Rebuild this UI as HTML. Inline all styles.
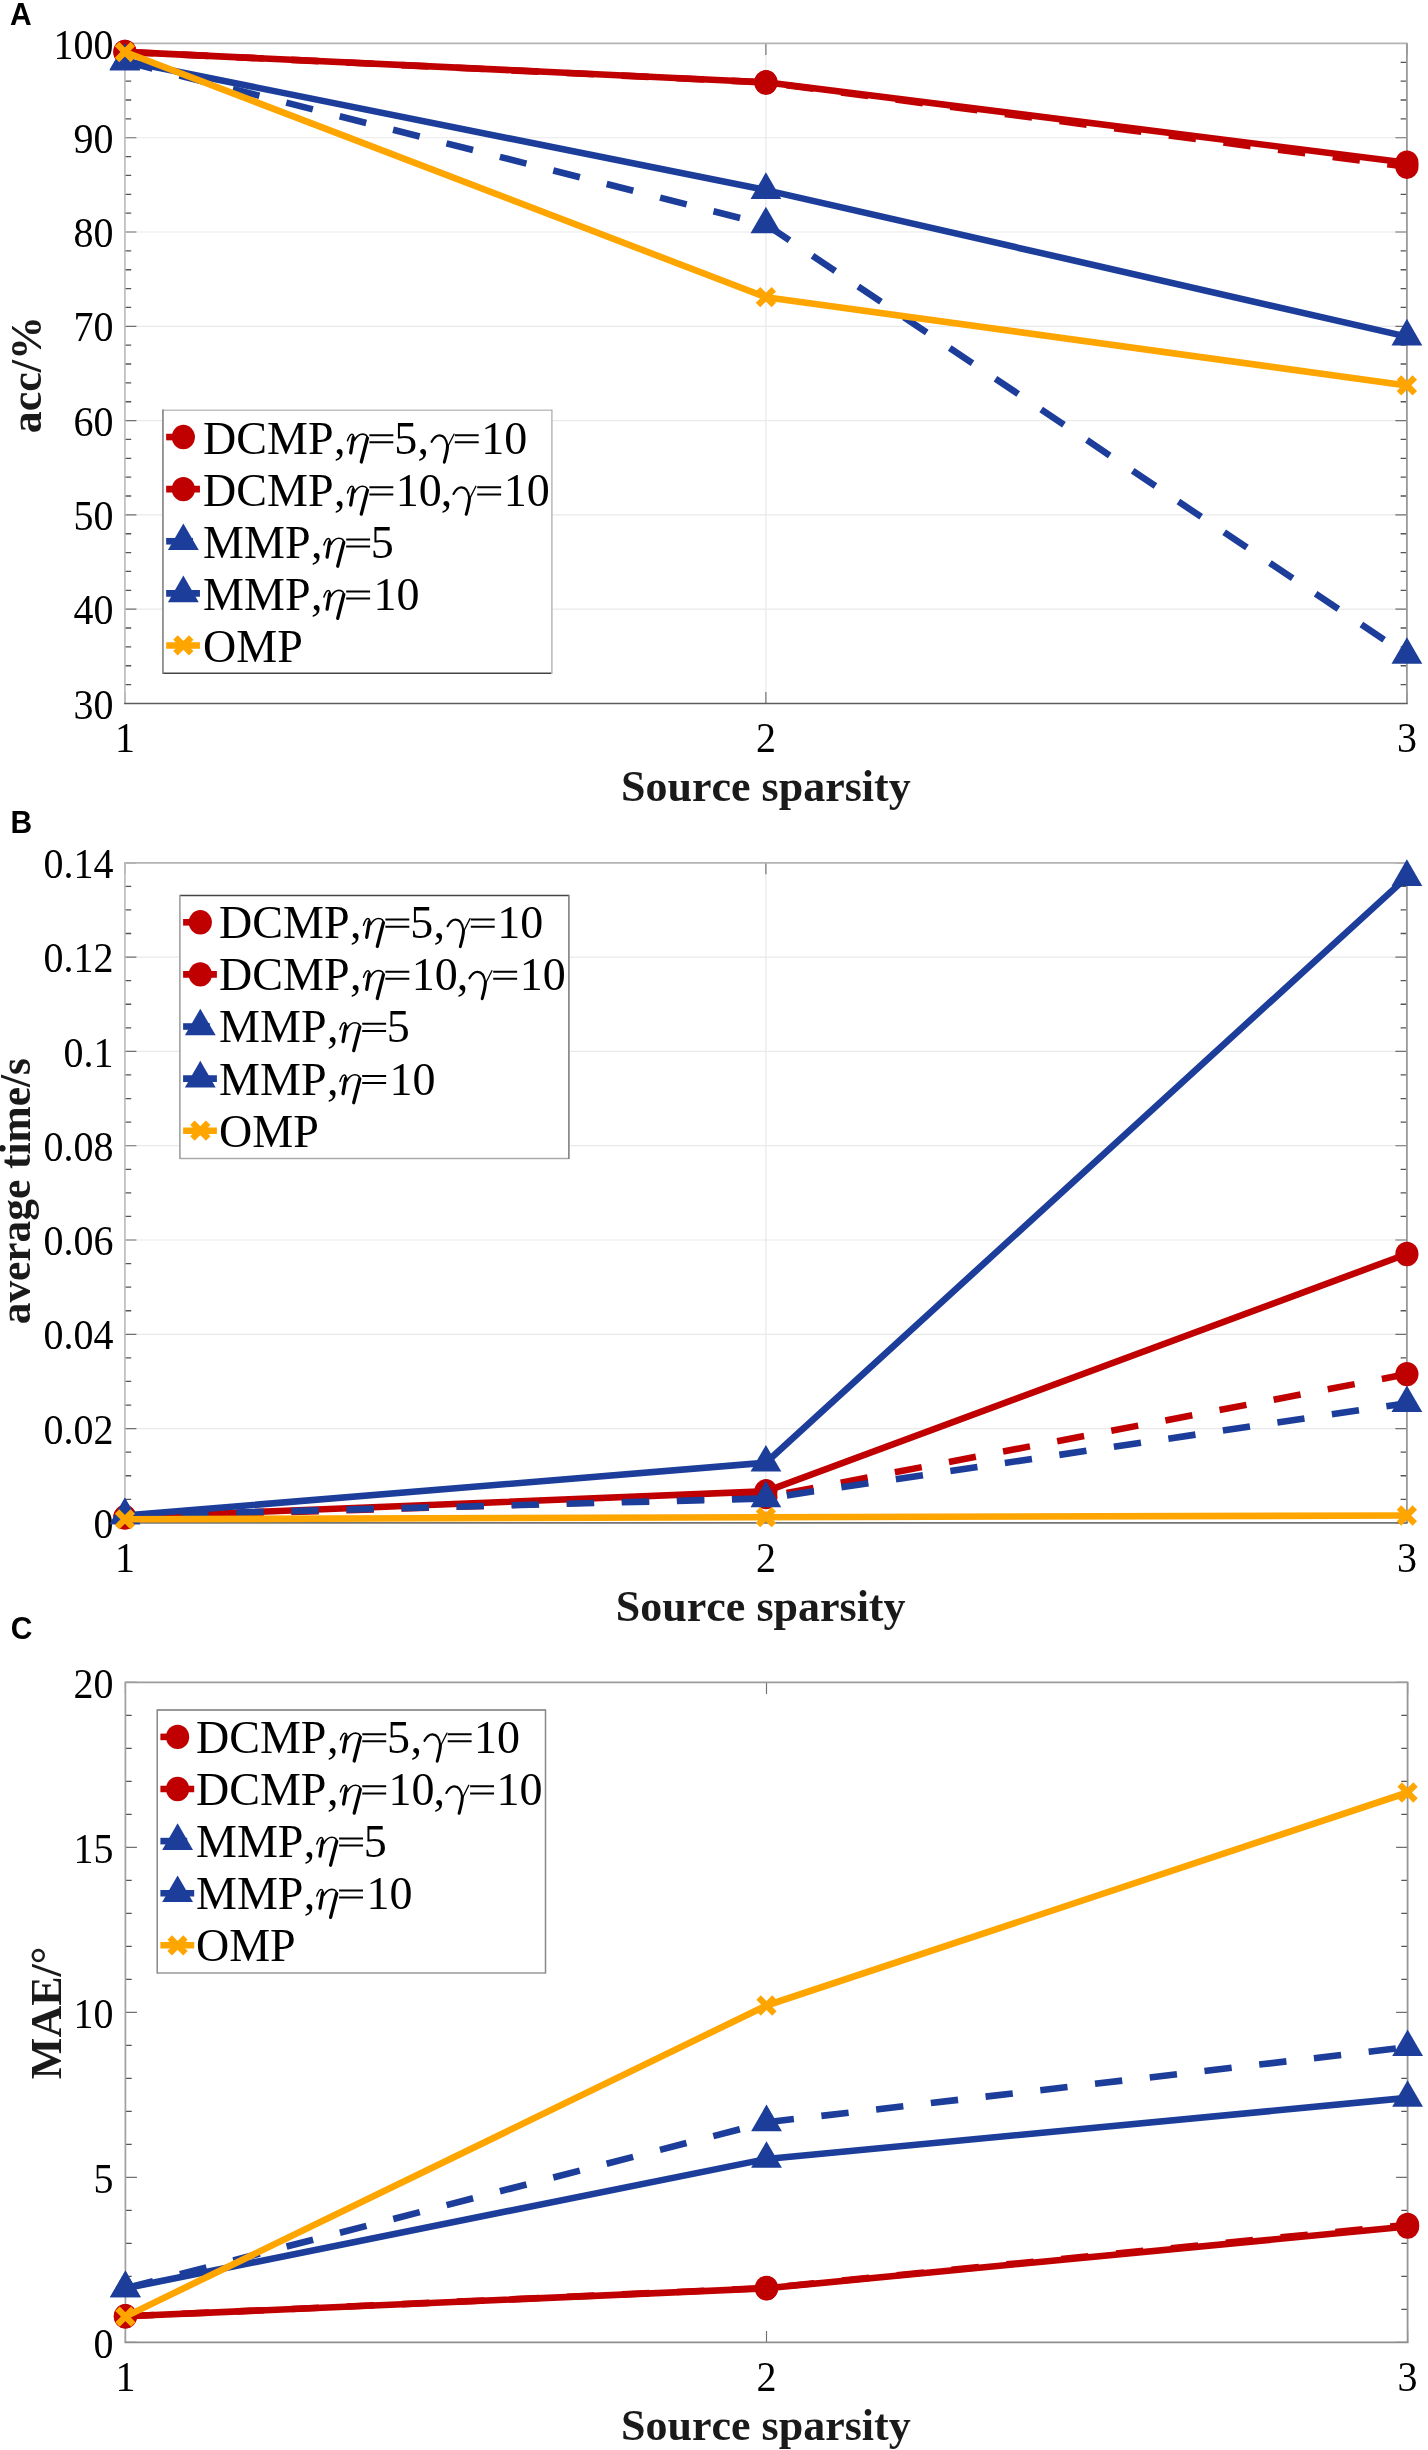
<!DOCTYPE html>
<html><head><meta charset="utf-8"><title>Figure</title>
<style>
html,body{margin:0;padding:0;background:#fff;}
body{width:1428px;height:2450px;overflow:hidden;}
svg{display:block;will-change:transform;}
text{font-kerning:none;font-feature-settings:"kern" 0;}
.tk{font-family:"Liberation Serif",serif;font-size:40px;fill:#000;}
.lab{font-family:"Liberation Serif",serif;font-size:44px;font-weight:bold;fill:#1a1a1a;}
.lg{font-family:"Liberation Serif",serif;font-size:46px;fill:#000;}
.let{font-family:"Liberation Sans",sans-serif;font-size:30px;font-weight:bold;fill:#000;}
</style></head>
<body>
<svg width="1428" height="2450" viewBox="0 0 1428 2450">
<rect width="1428" height="2450" fill="#fff"/>
<g>
<path d="M124.9 609.16H1406.9M124.9 514.88H1406.9M124.9 420.59H1406.9M124.9 326.31H1406.9M124.9 232.02H1406.9M124.9 137.74H1406.9M765.9 43.45V703.45" stroke="#e9e9e9" stroke-width="1.2" fill="none"/>
<path d="M124.9 684.59h6.3M1406.9 684.59h-6.3M124.9 665.74h6.3M1406.9 665.74h-6.3M124.9 646.88h6.3M1406.9 646.88h-6.3M124.9 628.02h6.3M1406.9 628.02h-6.3M124.9 590.31h6.3M1406.9 590.31h-6.3M124.9 571.45h6.3M1406.9 571.45h-6.3M124.9 552.59h6.3M1406.9 552.59h-6.3M124.9 533.74h6.3M1406.9 533.74h-6.3M124.9 496.02h6.3M1406.9 496.02h-6.3M124.9 477.16h6.3M1406.9 477.16h-6.3M124.9 458.31h6.3M1406.9 458.31h-6.3M124.9 439.45h6.3M1406.9 439.45h-6.3M124.9 401.74h6.3M1406.9 401.74h-6.3M124.9 382.88h6.3M1406.9 382.88h-6.3M124.9 364.02h6.3M1406.9 364.02h-6.3M124.9 345.16h6.3M1406.9 345.16h-6.3M124.9 307.45h6.3M1406.9 307.45h-6.3M124.9 288.59h6.3M1406.9 288.59h-6.3M124.9 269.74h6.3M1406.9 269.74h-6.3M124.9 250.88h6.3M1406.9 250.88h-6.3M124.9 213.16h6.3M1406.9 213.16h-6.3M124.9 194.31h6.3M1406.9 194.31h-6.3M124.9 175.45h6.3M1406.9 175.45h-6.3M124.9 156.59h6.3M1406.9 156.59h-6.3M124.9 118.88h6.3M1406.9 118.88h-6.3M124.9 100.02h6.3M1406.9 100.02h-6.3M124.9 81.16h6.3M1406.9 81.16h-6.3M124.9 62.31h6.3M1406.9 62.31h-6.3" stroke="#555" stroke-width="1.3" fill="none"/>
<path d="M124.9 703.45h11.5M1406.9 703.45h-11.5M124.9 609.16h11.5M1406.9 609.16h-11.5M124.9 514.88h11.5M1406.9 514.88h-11.5M124.9 420.59h11.5M1406.9 420.59h-11.5M124.9 326.31h11.5M1406.9 326.31h-11.5M124.9 232.02h11.5M1406.9 232.02h-11.5M124.9 137.74h11.5M1406.9 137.74h-11.5M124.9 43.45h11.5M1406.9 43.45h-11.5M124.9 703.45v-11.5M124.9 43.45v11.5M765.9 703.45v-11.5M765.9 43.45v11.5M1406.9 703.45v-11.5M1406.9 43.45v11.5" stroke="#707070" stroke-width="1.15" fill="none"/>
<path d="M124.1 43.45H1407.7" stroke="#b3b3b3" stroke-width="1.7"/>
<path d="M124.9 43.45V703.45" stroke="#bdbdbd" stroke-width="1.7"/>
<path d="M1406.9 43.45V703.45" stroke="#999999" stroke-width="1.8"/>
<path d="M124.1 703.45H1407.7" stroke="#5c5c5c" stroke-width="1.6"/>
<text transform="translate(113.6 718.55) scale(1 1.055)" class="tk" text-anchor="end">30</text>
<text transform="translate(113.6 624.26) scale(1 1.055)" class="tk" text-anchor="end">40</text>
<text transform="translate(113.6 529.98) scale(1 1.055)" class="tk" text-anchor="end">50</text>
<text transform="translate(113.6 435.69) scale(1 1.055)" class="tk" text-anchor="end">60</text>
<text transform="translate(113.6 341.41) scale(1 1.055)" class="tk" text-anchor="end">70</text>
<text transform="translate(113.6 247.12) scale(1 1.055)" class="tk" text-anchor="end">80</text>
<text transform="translate(113.6 152.84) scale(1 1.055)" class="tk" text-anchor="end">90</text>
<text transform="translate(113.6 58.55) scale(1 1.055)" class="tk" text-anchor="end">100</text>
<text transform="translate(124.9 752.35) scale(1 1.055)" class="tk" text-anchor="middle">1</text>
<text transform="translate(765.9 752.35) scale(1 1.055)" class="tk" text-anchor="middle">2</text>
<text transform="translate(1406.9 752.35) scale(1 1.055)" class="tk" text-anchor="middle">3</text>
<text x="765.9" y="801.3" class="lab" text-anchor="middle">Source sparsity</text>
<text transform="translate(41 374.6) rotate(-90)" class="lab" text-anchor="middle">acc/%</text>
<text transform="translate(10 24.7) scale(1 1.07)" class="let">A</text>
<polyline points="124.9,51.9 765.9,82.3 1406.9,162.7" stroke="#c00000" stroke-width="6.6" fill="none" stroke-linejoin="round"/>
<ellipse cx="124.9" cy="51.9" rx="11.6" ry="12.2" fill="#c00000"/>
<ellipse cx="765.9" cy="82.3" rx="11.6" ry="12.2" fill="#c00000"/>
<ellipse cx="1406.9" cy="162.7" rx="11.6" ry="12.2" fill="#c00000"/>
<polyline points="124.9,51.9 765.9,82.5 1406.9,166.7" stroke="#c00000" stroke-width="6.6" fill="none" stroke-linejoin="round" stroke-dasharray="27.4 27.7" stroke-dashoffset="-1.2"/>
<ellipse cx="124.9" cy="51.9" rx="11.6" ry="12.2" fill="#c00000"/>
<ellipse cx="765.9" cy="82.5" rx="11.6" ry="12.2" fill="#c00000"/>
<ellipse cx="1406.9" cy="166.7" rx="11.6" ry="12.2" fill="#c00000"/>
<polyline points="124.9,61 765.9,190.1 1406.9,336.6" stroke="#1c3e9a" stroke-width="6.6" fill="none" stroke-linejoin="round"/>
<path d="M124.9 43.27L140.3 69.87L109.5 69.87Z" fill="#1c3e9a"/>
<path d="M765.9 172.37L781.3 198.97L750.5 198.97Z" fill="#1c3e9a"/>
<path d="M1406.9 318.87L1422.3 345.47L1391.5 345.47Z" fill="#1c3e9a"/>
<polyline points="124.9,61.6 765.9,224.5 1406.9,655" stroke="#1c3e9a" stroke-width="6.6" fill="none" stroke-linejoin="round" stroke-dasharray="27.4 27.7" stroke-dashoffset="-1.2"/>
<path d="M124.9 43.87L140.3 70.47L109.5 70.47Z" fill="#1c3e9a"/>
<path d="M765.9 206.77L781.3 233.37L750.5 233.37Z" fill="#1c3e9a"/>
<path d="M1406.9 637.27L1422.3 663.87L1391.5 663.87Z" fill="#1c3e9a"/>
<polyline points="124.9,52 765.9,297.2 1406.9,385.4" stroke="#ffa500" stroke-width="6.6" fill="none" stroke-linejoin="round"/>
<path d="M117 44.1L132.8 59.9M132.8 44.1L117 59.9" stroke="#ffa500" stroke-width="6.3" fill="none"/>
<path d="M758 289.3L773.8 305.1M773.8 289.3L758 305.1" stroke="#ffa500" stroke-width="6.3" fill="none"/>
<path d="M1399 377.5L1414.8 393.3M1414.8 377.5L1399 393.3" stroke="#ffa500" stroke-width="6.3" fill="none"/>
<rect x="162.95" y="410.15" width="388.95" height="263.15" fill="#fff"/>
<path d="M162.95 410.15H551.9" stroke="#c0c0c0" stroke-width="1.5"/>
<path d="M162.95 673.3H551.9" stroke="#444444" stroke-width="1.5"/>
<path d="M162.95 409.45V674" stroke="#777777" stroke-width="1.5"/>
<path d="M551.9 409.45V674" stroke="#b8b8b8" stroke-width="1.5"/>
<path d="M166.15 437.05H192.95" stroke="#c00000" stroke-width="6.6"/>
<ellipse cx="183.35" cy="437.05" rx="11.6" ry="12.2" fill="#c00000"/>
<text y="453.8" class="lg"><tspan x="203.1">DCMP</tspan><tspan x="334.1">,</tspan><tspan x="394.2">5</tspan><tspan x="417.6">,</tspan><tspan x="481.2">10</tspan></text>
<g transform="translate(347.2 453.8)"><g fill="none" stroke="#000" stroke-linecap="round"><path d="M0.3 -13.0C1.5 -16.6 3 -19.6 4.7 -19.6C6.4 -19.6 6.5 -17.8 6.1 -15.6" stroke-width="1.5"/><path d="M6.1 -16.2L3.5 -0.9" stroke-width="3.3"/><path d="M7.4 -13.6C9.4 -17.6 12.4 -19.7 15.4 -19.7C18.7 -19.7 20.5 -17.8 20.1 -14.8" stroke-width="1.6"/><path d="M20.2 -15.6L14.1 8.2" stroke-width="3.3"/></g></g>
<g transform="translate(369.4 453.8)"><path d="M0 -19.6h23.9v2h-23.9zM0 -12.5h23.9v2h-23.9z" fill="#000"/></g>
<g transform="translate(431 453.8)"><g fill="none" stroke="#000" stroke-linecap="round"><path d="M0.6 -12.0C2.8 -16.3 5.6 -18.5 8.6 -18.5C12.6 -18.5 15.6 -14.6 16.4 -7.5" stroke-width="2.2"/><path d="M16.5 -8.0C16.6 -3 14.8 3 13.3 8.4" stroke-width="3.0"/><path d="M16.2 -6.0L23.0 -19.6" stroke-width="1.3"/></g></g>
<g transform="translate(454.8 453.8)"><path d="M0 -19.6h23.9v2h-23.9zM0 -12.5h23.9v2h-23.9z" fill="#000"/></g>
<path d="M166.15 489.15H199.95" stroke="#c00000" stroke-width="6.6"/>
<ellipse cx="183.35" cy="489.15" rx="11.6" ry="12.2" fill="#c00000"/>
<text y="505.9" class="lg"><tspan x="203.1">DCMP</tspan><tspan x="334.1">,</tspan><tspan x="395.7">10</tspan><tspan x="440.7">,</tspan><tspan x="503.7">10</tspan></text>
<g transform="translate(347.2 505.9)"><g fill="none" stroke="#000" stroke-linecap="round"><path d="M0.3 -13.0C1.5 -16.6 3 -19.6 4.7 -19.6C6.4 -19.6 6.5 -17.8 6.1 -15.6" stroke-width="1.5"/><path d="M6.1 -16.2L3.5 -0.9" stroke-width="3.3"/><path d="M7.4 -13.6C9.4 -17.6 12.4 -19.7 15.4 -19.7C18.7 -19.7 20.5 -17.8 20.1 -14.8" stroke-width="1.6"/><path d="M20.2 -15.6L14.1 8.2" stroke-width="3.3"/></g></g>
<g transform="translate(369.4 505.9)"><path d="M0 -19.6h23.9v2h-23.9zM0 -12.5h23.9v2h-23.9z" fill="#000"/></g>
<g transform="translate(452.9 505.9)"><g fill="none" stroke="#000" stroke-linecap="round"><path d="M0.6 -12.0C2.8 -16.3 5.6 -18.5 8.6 -18.5C12.6 -18.5 15.6 -14.6 16.4 -7.5" stroke-width="2.2"/><path d="M16.5 -8.0C16.6 -3 14.8 3 13.3 8.4" stroke-width="3.0"/><path d="M16.2 -6.0L23.0 -19.6" stroke-width="1.3"/></g></g>
<g transform="translate(477.2 505.9)"><path d="M0 -19.6h23.9v2h-23.9zM0 -12.5h23.9v2h-23.9z" fill="#000"/></g>
<path d="M166.15 541.25H192.95" stroke="#1c3e9a" stroke-width="6.6"/>
<path d="M183.35 523.52L198.75 550.12L167.95 550.12Z" fill="#1c3e9a"/>
<text y="558" class="lg"><tspan x="203.1">MMP</tspan><tspan x="310.9">,</tspan><tspan x="370.8">5</tspan></text>
<g transform="translate(323.6 558)"><g fill="none" stroke="#000" stroke-linecap="round"><path d="M0.3 -13.0C1.5 -16.6 3 -19.6 4.7 -19.6C6.4 -19.6 6.5 -17.8 6.1 -15.6" stroke-width="1.5"/><path d="M6.1 -16.2L3.5 -0.9" stroke-width="3.3"/><path d="M7.4 -13.6C9.4 -17.6 12.4 -19.7 15.4 -19.7C18.7 -19.7 20.5 -17.8 20.1 -14.8" stroke-width="1.6"/><path d="M20.2 -15.6L14.1 8.2" stroke-width="3.3"/></g></g>
<g transform="translate(346.2 558)"><path d="M0 -19.6h23.9v2h-23.9zM0 -12.5h23.9v2h-23.9z" fill="#000"/></g>
<path d="M166.15 593.35H199.95" stroke="#1c3e9a" stroke-width="6.6"/>
<path d="M183.35 575.62L198.75 602.22L167.95 602.22Z" fill="#1c3e9a"/>
<text y="610.1" class="lg"><tspan x="203.1">MMP</tspan><tspan x="310.9">,</tspan><tspan x="373.5">10</tspan></text>
<g transform="translate(323.6 610.1)"><g fill="none" stroke="#000" stroke-linecap="round"><path d="M0.3 -13.0C1.5 -16.6 3 -19.6 4.7 -19.6C6.4 -19.6 6.5 -17.8 6.1 -15.6" stroke-width="1.5"/><path d="M6.1 -16.2L3.5 -0.9" stroke-width="3.3"/><path d="M7.4 -13.6C9.4 -17.6 12.4 -19.7 15.4 -19.7C18.7 -19.7 20.5 -17.8 20.1 -14.8" stroke-width="1.6"/><path d="M20.2 -15.6L14.1 8.2" stroke-width="3.3"/></g></g>
<g transform="translate(346.2 610.1)"><path d="M0 -19.6h23.9v2h-23.9zM0 -12.5h23.9v2h-23.9z" fill="#000"/></g>
<path d="M166.15 645.45H199.95" stroke="#ffa500" stroke-width="6.6"/>
<path d="M175.45 637.55L191.25 653.35M191.25 637.55L175.45 653.35" stroke="#ffa500" stroke-width="6.3" fill="none"/>
<text y="662.2" class="lg"><tspan x="203.1">OMP</tspan></text>
</g>
<g>
<path d="M124.9 1428.6H1406.9M124.9 1334.3H1406.9M124.9 1240H1406.9M124.9 1145.7H1406.9M124.9 1051.4H1406.9M124.9 957.1H1406.9M765.9 862.8V1522.9" stroke="#e9e9e9" stroke-width="1.2" fill="none"/>
<path d="M124.9 1499.33h6.3M1406.9 1499.33h-6.3M124.9 1475.75h6.3M1406.9 1475.75h-6.3M124.9 1452.18h6.3M1406.9 1452.18h-6.3M124.9 1405.03h6.3M1406.9 1405.03h-6.3M124.9 1381.45h6.3M1406.9 1381.45h-6.3M124.9 1357.88h6.3M1406.9 1357.88h-6.3M124.9 1310.73h6.3M1406.9 1310.73h-6.3M124.9 1287.15h6.3M1406.9 1287.15h-6.3M124.9 1263.58h6.3M1406.9 1263.58h-6.3M124.9 1216.43h6.3M1406.9 1216.43h-6.3M124.9 1192.85h6.3M1406.9 1192.85h-6.3M124.9 1169.28h6.3M1406.9 1169.28h-6.3M124.9 1122.12h6.3M1406.9 1122.12h-6.3M124.9 1098.55h6.3M1406.9 1098.55h-6.3M124.9 1074.97h6.3M1406.9 1074.97h-6.3M124.9 1027.83h6.3M1406.9 1027.83h-6.3M124.9 1004.25h6.3M1406.9 1004.25h-6.3M124.9 980.67h6.3M1406.9 980.67h-6.3M124.9 933.52h6.3M1406.9 933.52h-6.3M124.9 909.95h6.3M1406.9 909.95h-6.3M124.9 886.38h6.3M1406.9 886.38h-6.3" stroke="#555" stroke-width="1.3" fill="none"/>
<path d="M124.9 1522.9h11.5M1406.9 1522.9h-11.5M124.9 1428.6h11.5M1406.9 1428.6h-11.5M124.9 1334.3h11.5M1406.9 1334.3h-11.5M124.9 1240h11.5M1406.9 1240h-11.5M124.9 1145.7h11.5M1406.9 1145.7h-11.5M124.9 1051.4h11.5M1406.9 1051.4h-11.5M124.9 957.1h11.5M1406.9 957.1h-11.5M124.9 862.8h11.5M1406.9 862.8h-11.5M124.9 1522.9v-11.5M124.9 862.8v11.5M765.9 1522.9v-11.5M765.9 862.8v11.5M1406.9 1522.9v-11.5M1406.9 862.8v11.5" stroke="#707070" stroke-width="1.15" fill="none"/>
<path d="M124.1 862.8H1407.7" stroke="#b3b3b3" stroke-width="1.7"/>
<path d="M124.9 862.8V1522.9" stroke="#bdbdbd" stroke-width="1.7"/>
<path d="M1406.9 862.8V1522.9" stroke="#999999" stroke-width="1.8"/>
<path d="M124.1 1522.9H1407.7" stroke="#737373" stroke-width="1.6"/>
<text transform="translate(113.6 1538) scale(1 1.055)" class="tk" text-anchor="end">0</text>
<text transform="translate(113.6 1443.7) scale(1 1.055)" class="tk" text-anchor="end">0.02</text>
<text transform="translate(113.6 1349.4) scale(1 1.055)" class="tk" text-anchor="end">0.04</text>
<text transform="translate(113.6 1255.1) scale(1 1.055)" class="tk" text-anchor="end">0.06</text>
<text transform="translate(113.6 1160.8) scale(1 1.055)" class="tk" text-anchor="end">0.08</text>
<text transform="translate(113.6 1066.5) scale(1 1.055)" class="tk" text-anchor="end">0.1</text>
<text transform="translate(113.6 972.2) scale(1 1.055)" class="tk" text-anchor="end">0.12</text>
<text transform="translate(113.6 877.9) scale(1 1.055)" class="tk" text-anchor="end">0.14</text>
<text transform="translate(124.9 1571.8) scale(1 1.055)" class="tk" text-anchor="middle">1</text>
<text transform="translate(765.9 1571.8) scale(1 1.055)" class="tk" text-anchor="middle">2</text>
<text transform="translate(1406.9 1571.8) scale(1 1.055)" class="tk" text-anchor="middle">3</text>
<text x="760.7" y="1621.3" class="lab" text-anchor="middle">Source sparsity</text>
<text transform="translate(30 1191.2) rotate(-90)" class="lab" text-anchor="middle" textLength="266.2" lengthAdjust="spacingAndGlyphs">average time/s</text>
<text transform="translate(10.5 832.7) scale(1 1.07)" class="let">B</text>
<polyline points="124.9,1517.3 765.9,1491.3 1406.9,1254" stroke="#c00000" stroke-width="6.6" fill="none" stroke-linejoin="round"/>
<ellipse cx="124.9" cy="1517.3" rx="11.6" ry="12.2" fill="#c00000"/>
<ellipse cx="765.9" cy="1491.3" rx="11.6" ry="12.2" fill="#c00000"/>
<ellipse cx="1406.9" cy="1254" rx="11.6" ry="12.2" fill="#c00000"/>
<polyline points="124.9,1517.3 765.9,1497 1406.9,1374.1" stroke="#c00000" stroke-width="6.6" fill="none" stroke-linejoin="round" stroke-dasharray="27.4 27.7" stroke-dashoffset="-1.2"/>
<ellipse cx="124.9" cy="1517.3" rx="11.6" ry="12.2" fill="#c00000"/>
<ellipse cx="765.9" cy="1497" rx="11.6" ry="12.2" fill="#c00000"/>
<ellipse cx="1406.9" cy="1374.1" rx="11.6" ry="12.2" fill="#c00000"/>
<polyline points="124.9,1515.5 765.9,1462.7 1406.9,877.1" stroke="#1c3e9a" stroke-width="6.6" fill="none" stroke-linejoin="round"/>
<path d="M124.9 1497.77L140.3 1524.37L109.5 1524.37Z" fill="#1c3e9a"/>
<path d="M765.9 1444.97L781.3 1471.57L750.5 1471.57Z" fill="#1c3e9a"/>
<path d="M1406.9 859.37L1422.3 885.97L1391.5 885.97Z" fill="#1c3e9a"/>
<polyline points="124.9,1515.5 765.9,1498.5 1406.9,1403.2" stroke="#1c3e9a" stroke-width="6.6" fill="none" stroke-linejoin="round" stroke-dasharray="27.4 27.7" stroke-dashoffset="-1.2"/>
<path d="M124.9 1497.77L140.3 1524.37L109.5 1524.37Z" fill="#1c3e9a"/>
<path d="M765.9 1480.77L781.3 1507.37L750.5 1507.37Z" fill="#1c3e9a"/>
<path d="M1406.9 1385.47L1422.3 1412.07L1391.5 1412.07Z" fill="#1c3e9a"/>
<polyline points="124.9,1519.3 765.9,1517.2 1406.9,1515.5" stroke="#ffa500" stroke-width="6.6" fill="none" stroke-linejoin="round"/>
<path d="M117 1511.4L132.8 1527.2M132.8 1511.4L117 1527.2" stroke="#ffa500" stroke-width="6.3" fill="none"/>
<path d="M758 1509.3L773.8 1525.1M773.8 1509.3L758 1525.1" stroke="#ffa500" stroke-width="6.3" fill="none"/>
<path d="M1399 1507.6L1414.8 1523.4M1414.8 1507.6L1399 1523.4" stroke="#ffa500" stroke-width="6.3" fill="none"/>
<rect x="179.9" y="895.4" width="389" height="263" fill="#fff"/>
<path d="M179.9 895.4H568.9" stroke="#444444" stroke-width="1.5"/>
<path d="M179.9 1158.4H568.9" stroke="#aaaaaa" stroke-width="1.5"/>
<path d="M179.9 894.7V1159.1" stroke="#999999" stroke-width="1.5"/>
<path d="M568.9 894.7V1159.1" stroke="#777777" stroke-width="1.5"/>
<path d="M183.1 922.3H209.9" stroke="#c00000" stroke-width="6.6"/>
<ellipse cx="200.3" cy="922.3" rx="11.6" ry="12.2" fill="#c00000"/>
<text y="938.2" class="lg"><tspan x="219.1">DCMP</tspan><tspan x="350.1">,</tspan><tspan x="410.2">5</tspan><tspan x="433.6">,</tspan><tspan x="497.2">10</tspan></text>
<g transform="translate(363.2 938.2)"><g fill="none" stroke="#000" stroke-linecap="round"><path d="M0.3 -13.0C1.5 -16.6 3 -19.6 4.7 -19.6C6.4 -19.6 6.5 -17.8 6.1 -15.6" stroke-width="1.5"/><path d="M6.1 -16.2L3.5 -0.9" stroke-width="3.3"/><path d="M7.4 -13.6C9.4 -17.6 12.4 -19.7 15.4 -19.7C18.7 -19.7 20.5 -17.8 20.1 -14.8" stroke-width="1.6"/><path d="M20.2 -15.6L14.1 8.2" stroke-width="3.3"/></g></g>
<g transform="translate(385.4 938.2)"><path d="M0 -19.6h23.9v2h-23.9zM0 -12.5h23.9v2h-23.9z" fill="#000"/></g>
<g transform="translate(447 938.2)"><g fill="none" stroke="#000" stroke-linecap="round"><path d="M0.6 -12.0C2.8 -16.3 5.6 -18.5 8.6 -18.5C12.6 -18.5 15.6 -14.6 16.4 -7.5" stroke-width="2.2"/><path d="M16.5 -8.0C16.6 -3 14.8 3 13.3 8.4" stroke-width="3.0"/><path d="M16.2 -6.0L23.0 -19.6" stroke-width="1.3"/></g></g>
<g transform="translate(470.8 938.2)"><path d="M0 -19.6h23.9v2h-23.9zM0 -12.5h23.9v2h-23.9z" fill="#000"/></g>
<path d="M183.1 974.4H216.9" stroke="#c00000" stroke-width="6.6"/>
<ellipse cx="200.3" cy="974.4" rx="11.6" ry="12.2" fill="#c00000"/>
<text y="990.3" class="lg"><tspan x="219.1">DCMP</tspan><tspan x="350.1">,</tspan><tspan x="411.7">10</tspan><tspan x="456.7">,</tspan><tspan x="519.7">10</tspan></text>
<g transform="translate(363.2 990.3)"><g fill="none" stroke="#000" stroke-linecap="round"><path d="M0.3 -13.0C1.5 -16.6 3 -19.6 4.7 -19.6C6.4 -19.6 6.5 -17.8 6.1 -15.6" stroke-width="1.5"/><path d="M6.1 -16.2L3.5 -0.9" stroke-width="3.3"/><path d="M7.4 -13.6C9.4 -17.6 12.4 -19.7 15.4 -19.7C18.7 -19.7 20.5 -17.8 20.1 -14.8" stroke-width="1.6"/><path d="M20.2 -15.6L14.1 8.2" stroke-width="3.3"/></g></g>
<g transform="translate(385.4 990.3)"><path d="M0 -19.6h23.9v2h-23.9zM0 -12.5h23.9v2h-23.9z" fill="#000"/></g>
<g transform="translate(468.9 990.3)"><g fill="none" stroke="#000" stroke-linecap="round"><path d="M0.6 -12.0C2.8 -16.3 5.6 -18.5 8.6 -18.5C12.6 -18.5 15.6 -14.6 16.4 -7.5" stroke-width="2.2"/><path d="M16.5 -8.0C16.6 -3 14.8 3 13.3 8.4" stroke-width="3.0"/><path d="M16.2 -6.0L23.0 -19.6" stroke-width="1.3"/></g></g>
<g transform="translate(493.2 990.3)"><path d="M0 -19.6h23.9v2h-23.9zM0 -12.5h23.9v2h-23.9z" fill="#000"/></g>
<path d="M183.1 1026.5H209.9" stroke="#1c3e9a" stroke-width="6.6"/>
<path d="M200.3 1008.77L215.7 1035.37L184.9 1035.37Z" fill="#1c3e9a"/>
<text y="1042.4" class="lg"><tspan x="219.1">MMP</tspan><tspan x="326.9">,</tspan><tspan x="386.8">5</tspan></text>
<g transform="translate(339.6 1042.4)"><g fill="none" stroke="#000" stroke-linecap="round"><path d="M0.3 -13.0C1.5 -16.6 3 -19.6 4.7 -19.6C6.4 -19.6 6.5 -17.8 6.1 -15.6" stroke-width="1.5"/><path d="M6.1 -16.2L3.5 -0.9" stroke-width="3.3"/><path d="M7.4 -13.6C9.4 -17.6 12.4 -19.7 15.4 -19.7C18.7 -19.7 20.5 -17.8 20.1 -14.8" stroke-width="1.6"/><path d="M20.2 -15.6L14.1 8.2" stroke-width="3.3"/></g></g>
<g transform="translate(362.2 1042.4)"><path d="M0 -19.6h23.9v2h-23.9zM0 -12.5h23.9v2h-23.9z" fill="#000"/></g>
<path d="M183.1 1078.6H216.9" stroke="#1c3e9a" stroke-width="6.6"/>
<path d="M200.3 1060.87L215.7 1087.47L184.9 1087.47Z" fill="#1c3e9a"/>
<text y="1094.5" class="lg"><tspan x="219.1">MMP</tspan><tspan x="326.9">,</tspan><tspan x="389.5">10</tspan></text>
<g transform="translate(339.6 1094.5)"><g fill="none" stroke="#000" stroke-linecap="round"><path d="M0.3 -13.0C1.5 -16.6 3 -19.6 4.7 -19.6C6.4 -19.6 6.5 -17.8 6.1 -15.6" stroke-width="1.5"/><path d="M6.1 -16.2L3.5 -0.9" stroke-width="3.3"/><path d="M7.4 -13.6C9.4 -17.6 12.4 -19.7 15.4 -19.7C18.7 -19.7 20.5 -17.8 20.1 -14.8" stroke-width="1.6"/><path d="M20.2 -15.6L14.1 8.2" stroke-width="3.3"/></g></g>
<g transform="translate(362.2 1094.5)"><path d="M0 -19.6h23.9v2h-23.9zM0 -12.5h23.9v2h-23.9z" fill="#000"/></g>
<path d="M183.1 1130.7H216.9" stroke="#ffa500" stroke-width="6.6"/>
<path d="M192.4 1122.8L208.2 1138.6M208.2 1122.8L192.4 1138.6" stroke="#ffa500" stroke-width="6.3" fill="none"/>
<text y="1146.6" class="lg"><tspan x="219.1">OMP</tspan></text>
</g>
<g>
<path d="M125.4 2309.4h6.3M1407.6 2309.4h-6.3M125.4 2276.4h6.3M1407.6 2276.4h-6.3M125.4 2243.4h6.3M1407.6 2243.4h-6.3M125.4 2210.4h6.3M1407.6 2210.4h-6.3M125.4 2144.4h6.3M1407.6 2144.4h-6.3M125.4 2111.4h6.3M1407.6 2111.4h-6.3M125.4 2078.4h6.3M1407.6 2078.4h-6.3M125.4 2045.4h6.3M1407.6 2045.4h-6.3M125.4 1979.4h6.3M1407.6 1979.4h-6.3M125.4 1946.4h6.3M1407.6 1946.4h-6.3M125.4 1913.4h6.3M1407.6 1913.4h-6.3M125.4 1880.4h6.3M1407.6 1880.4h-6.3M125.4 1814.4h6.3M1407.6 1814.4h-6.3M125.4 1781.4h6.3M1407.6 1781.4h-6.3M125.4 1748.4h6.3M1407.6 1748.4h-6.3M125.4 1715.4h6.3M1407.6 1715.4h-6.3" stroke="#555" stroke-width="1.3" fill="none"/>
<path d="M125.4 2342.4h11.5M1407.6 2342.4h-11.5M125.4 2177.4h11.5M1407.6 2177.4h-11.5M125.4 2012.4h11.5M1407.6 2012.4h-11.5M125.4 1847.4h11.5M1407.6 1847.4h-11.5M125.4 1682.4h11.5M1407.6 1682.4h-11.5M125.4 2342.4v-11.5M125.4 1682.4v11.5M766.5 2342.4v-11.5M766.5 1682.4v11.5M1407.6 2342.4v-11.5M1407.6 1682.4v11.5" stroke="#707070" stroke-width="1.15" fill="none"/>
<path d="M124.6 1682.4H1408.4" stroke="#9c9c9c" stroke-width="1.7"/>
<path d="M125.4 1682.4V2342.4" stroke="#a0a0a0" stroke-width="1.7"/>
<path d="M1407.6 1682.4V2342.4" stroke="#959595" stroke-width="1.8"/>
<path d="M124.6 2342.4H1408.4" stroke="#8e8e8e" stroke-width="1.6"/>
<text transform="translate(113.6 2357.5) scale(1 1.055)" class="tk" text-anchor="end">0</text>
<text transform="translate(113.6 2192.5) scale(1 1.055)" class="tk" text-anchor="end">5</text>
<text transform="translate(113.6 2027.5) scale(1 1.055)" class="tk" text-anchor="end">10</text>
<text transform="translate(113.6 1862.5) scale(1 1.055)" class="tk" text-anchor="end">15</text>
<text transform="translate(113.6 1697.5) scale(1 1.055)" class="tk" text-anchor="end">20</text>
<text transform="translate(125.4 2391.3) scale(1 1.055)" class="tk" text-anchor="middle">1</text>
<text transform="translate(766.5 2391.3) scale(1 1.055)" class="tk" text-anchor="middle">2</text>
<text transform="translate(1407.6 2391.3) scale(1 1.055)" class="tk" text-anchor="middle">3</text>
<text x="765.9" y="2439.8" class="lab" text-anchor="middle">Source sparsity</text>
<text transform="translate(60.8 2012.9) rotate(-90)" class="lab" text-anchor="middle">MAE/°</text>
<text transform="translate(10.7 1639.4) scale(1 1.07)" class="let">C</text>
<polyline points="125.4,2316.3 766.5,2288.3 1407.6,2226.5" stroke="#c00000" stroke-width="6.6" fill="none" stroke-linejoin="round"/>
<ellipse cx="125.4" cy="2316.3" rx="11.6" ry="12.2" fill="#c00000"/>
<ellipse cx="766.5" cy="2288.3" rx="11.6" ry="12.2" fill="#c00000"/>
<ellipse cx="1407.6" cy="2226.5" rx="11.6" ry="12.2" fill="#c00000"/>
<polyline points="125.4,2316.3 766.5,2288 1407.6,2224.9" stroke="#c00000" stroke-width="6.6" fill="none" stroke-linejoin="round" stroke-dasharray="27.4 27.7" stroke-dashoffset="-1.2"/>
<ellipse cx="125.4" cy="2316.3" rx="11.6" ry="12.2" fill="#c00000"/>
<ellipse cx="766.5" cy="2288" rx="11.6" ry="12.2" fill="#c00000"/>
<ellipse cx="1407.6" cy="2224.9" rx="11.6" ry="12.2" fill="#c00000"/>
<polyline points="125.4,2288.3 766.5,2159 1407.6,2097.9" stroke="#1c3e9a" stroke-width="6.6" fill="none" stroke-linejoin="round"/>
<path d="M125.4 2270.57L140.8 2297.17L110 2297.17Z" fill="#1c3e9a"/>
<path d="M766.5 2141.27L781.9 2167.87L751.1 2167.87Z" fill="#1c3e9a"/>
<path d="M1407.6 2080.17L1423 2106.77L1392.2 2106.77Z" fill="#1c3e9a"/>
<polyline points="125.4,2288.3 766.5,2122.3 1407.6,2047.2" stroke="#1c3e9a" stroke-width="6.6" fill="none" stroke-linejoin="round" stroke-dasharray="27.4 27.7" stroke-dashoffset="-1.2"/>
<path d="M125.4 2270.57L140.8 2297.17L110 2297.17Z" fill="#1c3e9a"/>
<path d="M766.5 2104.57L781.9 2131.17L751.1 2131.17Z" fill="#1c3e9a"/>
<path d="M1407.6 2029.47L1423 2056.07L1392.2 2056.07Z" fill="#1c3e9a"/>
<polyline points="125.4,2316.6 766.5,2005.5 1407.6,1792.5" stroke="#ffa500" stroke-width="6.6" fill="none" stroke-linejoin="round"/>
<path d="M117.5 2308.7L133.3 2324.5M133.3 2308.7L117.5 2324.5" stroke="#ffa500" stroke-width="6.3" fill="none"/>
<path d="M758.6 1997.6L774.4 2013.4M774.4 1997.6L758.6 2013.4" stroke="#ffa500" stroke-width="6.3" fill="none"/>
<path d="M1399.7 1784.6L1415.5 1800.4M1415.5 1784.6L1399.7 1800.4" stroke="#ffa500" stroke-width="6.3" fill="none"/>
<rect x="157.2" y="1710" width="388.3" height="262.9" fill="#fff"/>
<path d="M157.2 1710H545.5" stroke="#777777" stroke-width="1.5"/>
<path d="M157.2 1972.9H545.5" stroke="#999999" stroke-width="1.5"/>
<path d="M157.2 1709.3V1973.6" stroke="#888888" stroke-width="1.5"/>
<path d="M545.5 1709.3V1973.6" stroke="#888888" stroke-width="1.5"/>
<path d="M160.4 1736.9H187.2" stroke="#c00000" stroke-width="6.6"/>
<ellipse cx="177.6" cy="1736.9" rx="11.6" ry="12.2" fill="#c00000"/>
<text y="1752.8" class="lg"><tspan x="196">DCMP</tspan><tspan x="327">,</tspan><tspan x="387.1">5</tspan><tspan x="410.5">,</tspan><tspan x="474.1">10</tspan></text>
<g transform="translate(340.1 1752.8)"><g fill="none" stroke="#000" stroke-linecap="round"><path d="M0.3 -13.0C1.5 -16.6 3 -19.6 4.7 -19.6C6.4 -19.6 6.5 -17.8 6.1 -15.6" stroke-width="1.5"/><path d="M6.1 -16.2L3.5 -0.9" stroke-width="3.3"/><path d="M7.4 -13.6C9.4 -17.6 12.4 -19.7 15.4 -19.7C18.7 -19.7 20.5 -17.8 20.1 -14.8" stroke-width="1.6"/><path d="M20.2 -15.6L14.1 8.2" stroke-width="3.3"/></g></g>
<g transform="translate(362.3 1752.8)"><path d="M0 -19.6h23.9v2h-23.9zM0 -12.5h23.9v2h-23.9z" fill="#000"/></g>
<g transform="translate(423.9 1752.8)"><g fill="none" stroke="#000" stroke-linecap="round"><path d="M0.6 -12.0C2.8 -16.3 5.6 -18.5 8.6 -18.5C12.6 -18.5 15.6 -14.6 16.4 -7.5" stroke-width="2.2"/><path d="M16.5 -8.0C16.6 -3 14.8 3 13.3 8.4" stroke-width="3.0"/><path d="M16.2 -6.0L23.0 -19.6" stroke-width="1.3"/></g></g>
<g transform="translate(447.7 1752.8)"><path d="M0 -19.6h23.9v2h-23.9zM0 -12.5h23.9v2h-23.9z" fill="#000"/></g>
<path d="M160.4 1789H194.2" stroke="#c00000" stroke-width="6.6"/>
<ellipse cx="177.6" cy="1789" rx="11.6" ry="12.2" fill="#c00000"/>
<text y="1804.9" class="lg"><tspan x="196">DCMP</tspan><tspan x="327">,</tspan><tspan x="388.6">10</tspan><tspan x="433.6">,</tspan><tspan x="496.6">10</tspan></text>
<g transform="translate(340.1 1804.9)"><g fill="none" stroke="#000" stroke-linecap="round"><path d="M0.3 -13.0C1.5 -16.6 3 -19.6 4.7 -19.6C6.4 -19.6 6.5 -17.8 6.1 -15.6" stroke-width="1.5"/><path d="M6.1 -16.2L3.5 -0.9" stroke-width="3.3"/><path d="M7.4 -13.6C9.4 -17.6 12.4 -19.7 15.4 -19.7C18.7 -19.7 20.5 -17.8 20.1 -14.8" stroke-width="1.6"/><path d="M20.2 -15.6L14.1 8.2" stroke-width="3.3"/></g></g>
<g transform="translate(362.3 1804.9)"><path d="M0 -19.6h23.9v2h-23.9zM0 -12.5h23.9v2h-23.9z" fill="#000"/></g>
<g transform="translate(445.8 1804.9)"><g fill="none" stroke="#000" stroke-linecap="round"><path d="M0.6 -12.0C2.8 -16.3 5.6 -18.5 8.6 -18.5C12.6 -18.5 15.6 -14.6 16.4 -7.5" stroke-width="2.2"/><path d="M16.5 -8.0C16.6 -3 14.8 3 13.3 8.4" stroke-width="3.0"/><path d="M16.2 -6.0L23.0 -19.6" stroke-width="1.3"/></g></g>
<g transform="translate(470.1 1804.9)"><path d="M0 -19.6h23.9v2h-23.9zM0 -12.5h23.9v2h-23.9z" fill="#000"/></g>
<path d="M160.4 1841.1H187.2" stroke="#1c3e9a" stroke-width="6.6"/>
<path d="M177.6 1823.37L193 1849.97L162.2 1849.97Z" fill="#1c3e9a"/>
<text y="1857" class="lg"><tspan x="196">MMP</tspan><tspan x="303.8">,</tspan><tspan x="363.7">5</tspan></text>
<g transform="translate(316.5 1857)"><g fill="none" stroke="#000" stroke-linecap="round"><path d="M0.3 -13.0C1.5 -16.6 3 -19.6 4.7 -19.6C6.4 -19.6 6.5 -17.8 6.1 -15.6" stroke-width="1.5"/><path d="M6.1 -16.2L3.5 -0.9" stroke-width="3.3"/><path d="M7.4 -13.6C9.4 -17.6 12.4 -19.7 15.4 -19.7C18.7 -19.7 20.5 -17.8 20.1 -14.8" stroke-width="1.6"/><path d="M20.2 -15.6L14.1 8.2" stroke-width="3.3"/></g></g>
<g transform="translate(339.1 1857)"><path d="M0 -19.6h23.9v2h-23.9zM0 -12.5h23.9v2h-23.9z" fill="#000"/></g>
<path d="M160.4 1893.2H194.2" stroke="#1c3e9a" stroke-width="6.6"/>
<path d="M177.6 1875.47L193 1902.07L162.2 1902.07Z" fill="#1c3e9a"/>
<text y="1909.1" class="lg"><tspan x="196">MMP</tspan><tspan x="303.8">,</tspan><tspan x="366.4">10</tspan></text>
<g transform="translate(316.5 1909.1)"><g fill="none" stroke="#000" stroke-linecap="round"><path d="M0.3 -13.0C1.5 -16.6 3 -19.6 4.7 -19.6C6.4 -19.6 6.5 -17.8 6.1 -15.6" stroke-width="1.5"/><path d="M6.1 -16.2L3.5 -0.9" stroke-width="3.3"/><path d="M7.4 -13.6C9.4 -17.6 12.4 -19.7 15.4 -19.7C18.7 -19.7 20.5 -17.8 20.1 -14.8" stroke-width="1.6"/><path d="M20.2 -15.6L14.1 8.2" stroke-width="3.3"/></g></g>
<g transform="translate(339.1 1909.1)"><path d="M0 -19.6h23.9v2h-23.9zM0 -12.5h23.9v2h-23.9z" fill="#000"/></g>
<path d="M160.4 1945.3H194.2" stroke="#ffa500" stroke-width="6.6"/>
<path d="M169.7 1937.4L185.5 1953.2M185.5 1937.4L169.7 1953.2" stroke="#ffa500" stroke-width="6.3" fill="none"/>
<text y="1961.2" class="lg"><tspan x="196">OMP</tspan></text>
</g>
</svg>
</body></html>
